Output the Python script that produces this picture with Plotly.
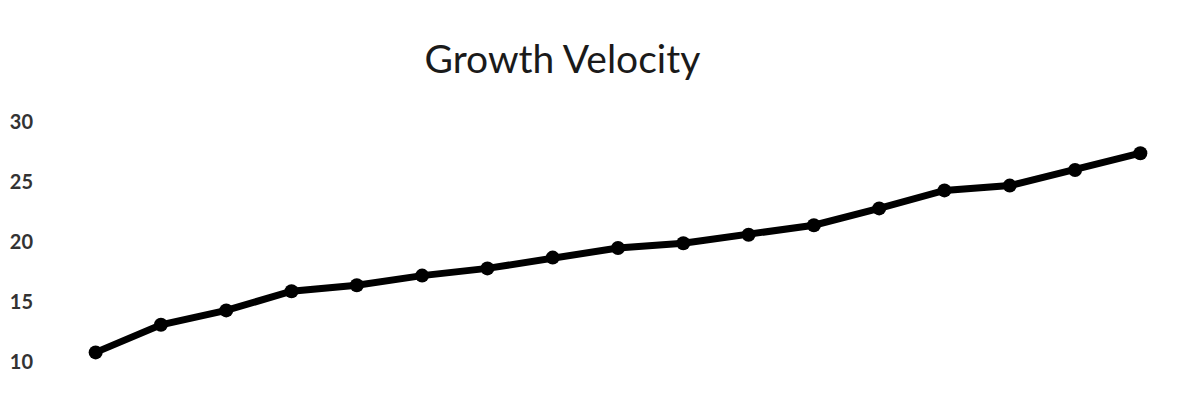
import plotly.graph_objects as go

# Growth velocity readings, one per measurement point
puntos = list(range(1, 18))
velocidad = [10.8, 13.1, 14.3, 15.9, 16.4, 17.2, 17.8, 18.7, 19.5,
             19.9, 20.6, 21.4, 22.8, 24.3, 24.7, 26.0, 27.4]
ticks_y = [10, 15, 20, 25, 30]

fig = go.Figure()

fig.add_trace(go.Scatter(x=puntos, y=velocidad, mode="lines+markers",
                         line=dict(color="black", width=7),
                         marker=dict(color="black", size=14),
                         showlegend=False))

fig.update_layout(
    width=1200, height=400,
    paper_bgcolor="white", plot_bgcolor="white",
    margin=dict(l=55, r=35, t=114, b=46),
    title=dict(text="Growth Velocity", x=0.462, xanchor="center",
               y=0.8725, yanchor="middle",
               font=dict(family="Lato", size=39, color="#1a1a1a")),
)

fig.update_xaxes(range=[0.5, 17.5], showticklabels=False, showgrid=False,
                 zeroline=False, showline=False, automargin=False)
fig.update_yaxes(range=[10, 30], tickvals=ticks_y, showgrid=False,
                 zeroline=False, showline=False, ticklabelstandoff=29,
                 automargin=False,
                 tickfont=dict(family="Lato", size=20, color="#333333",
                               weight="bold"))

fig.write_html("out.html")
